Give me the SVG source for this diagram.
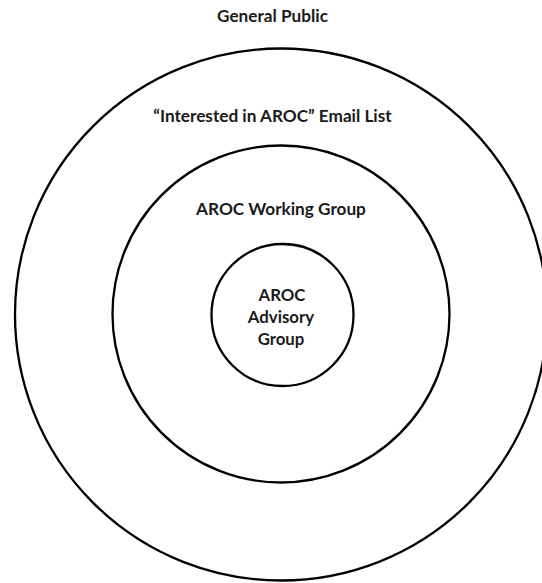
<svg xmlns="http://www.w3.org/2000/svg" width="542" height="583" viewBox="0 0 542 583">
<style>
.ring{fill:none;stroke:#000;stroke-width:2.3}
.lbl{font-family:Lato,"Open Sans","Liberation Sans",sans-serif;font-weight:bold;font-size:17.2px;fill:#1a1a1a;text-anchor:middle}
.in{font-size:16.8px}
</style>
<rect width="542" height="583" fill="#fff"/>
<g id="general-public">
<text class="lbl" x="272.5" y="22">General Public</text>
</g>
<g id="email-list">
<circle class="ring" cx="281" cy="314.5" r="266"/>
<text class="lbl" x="272.5" y="122">“Interested in AROC” Email List</text>
</g>
<g id="working-group">
<circle class="ring" cx="281" cy="314" r="168.5"/>
<text class="lbl" x="281" y="215">AROC Working Group</text>
</g>
<g id="advisory-group">
<circle class="ring" cx="282.5" cy="315" r="71"/>
<text class="lbl in" x="282" y="301">AROC</text>
<text class="lbl in" x="281" y="323">Advisory</text>
<text class="lbl in" x="281" y="345">Group</text>
</g>
<g id="connectors"/>
</svg>
